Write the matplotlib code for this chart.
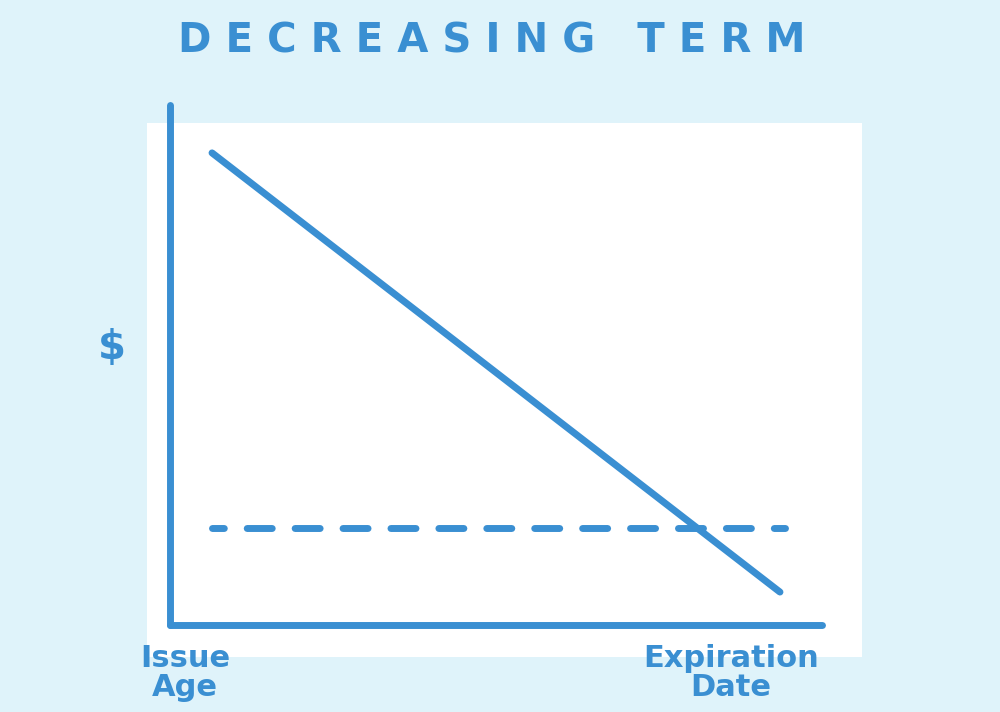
import matplotlib.pyplot as plt
from matplotlib.patches import Rectangle

BLUE = "#3a8fd2"
BG = "#dff3fa"

# coverage over the term: issue age (0) -> expiration date (1)
term = [0.0, 1.0]
coverage = [1.0, 0.0]
level_term = [0.0, 1.008]
level_coverage = [0.146, 0.146]

title = "DECREASING TERM"
x_labels = ["Issue\nAge", "Expiration\nDate"]
y_label = "$"

fig = plt.figure(figsize=(10, 7.12), dpi=100, facecolor=BG)

# white panel behind the chart
fig.patches.append(Rectangle((0.147, 0.0772), 0.715, 0.75, transform=fig.transFigure,
                             facecolor="white", edgecolor="none", zorder=-1))

ax = fig.add_axes([0.17, 0.1222, 0.652, 0.7303])
ax.set_facecolor("none")
ax.set_xlim(-0.074, 1.074)
ax.set_ylim(-0.075, 1.109)

ax.plot(term, coverage, color=BLUE, lw=5, solid_capstyle="round")
ax.plot(level_term, level_coverage, color=BLUE, lw=5,
        linestyle=(1.9, (3.6, 3.3)), dash_capstyle="round")

for side in ["top", "right"]:
    ax.spines[side].set_visible(False)
for side in ["left", "bottom"]:
    ax.spines[side].set_color(BLUE)
    ax.spines[side].set_linewidth(5)
    ax.spines[side].set_capstyle("round")
ax.set_xticks([])
ax.set_yticks([])

txt = dict(color=BLUE, fontweight="bold", family="DejaVu Sans")
fig.text(0.492, 0.942, " ".join(title), ha="center", va="center",
         fontsize=29, **txt)
fig.text(0.112, 0.511, y_label, ha="center", va="center", fontsize=29, **txt)
fig.text(0.185, 0.055, x_labels[0], ha="center", va="center", fontsize=22,
         linespacing=1.0, **txt)
fig.text(0.731, 0.055, x_labels[1], ha="center", va="center", fontsize=22,
         linespacing=1.0, **txt)

fig.savefig("out.png", dpi=100, facecolor=BG)
